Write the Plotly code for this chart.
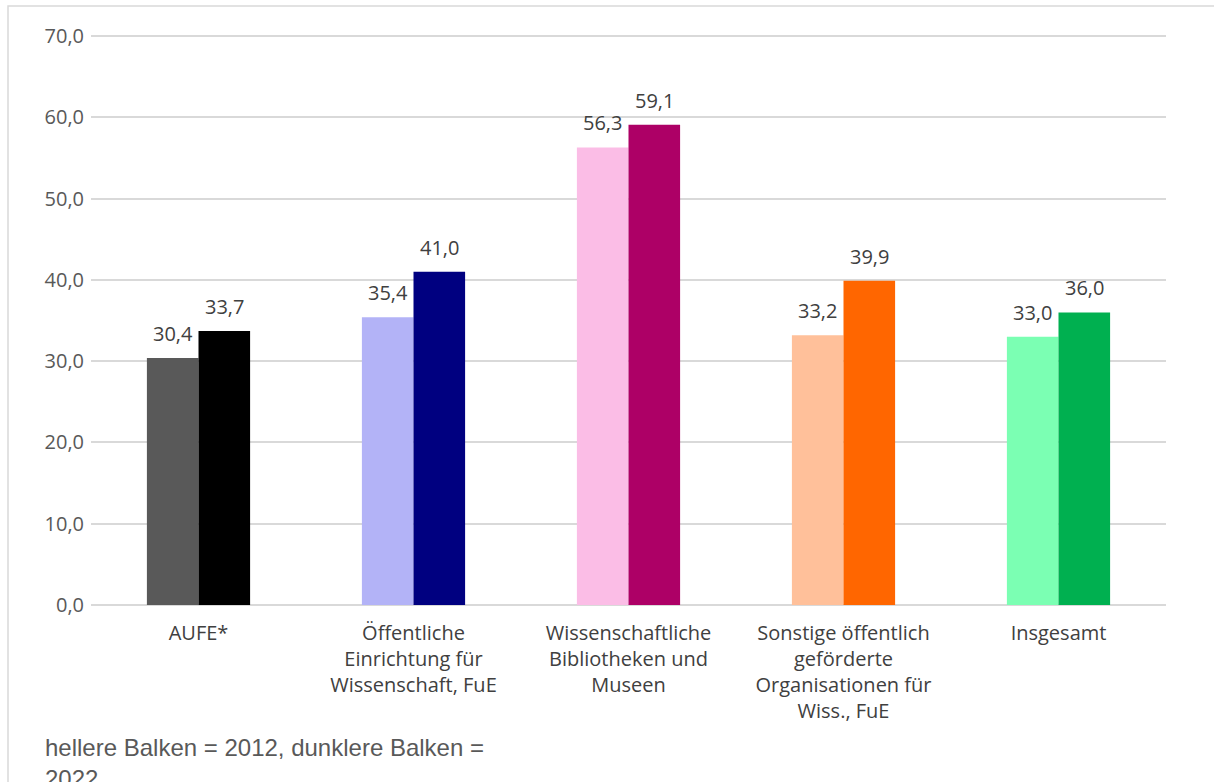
import plotly.graph_objects as go

categories = [
    "AUFE*",
    "Öffentliche<br>Einrichtung für<br>Wissenschaft, FuE",
    "Wissenschaftliche<br>Bibliotheken und<br>Museen",
    "Sonstige öffentlich<br>geförderte<br>Organisationen für<br>Wiss., FuE",
    "Insgesamt",
]
values_2012 = [30.4, 35.4, 56.3, 33.2, 33.0]
values_2022 = [33.7, 41.0, 59.1, 39.9, 36.0]
y_ticks = [0, 10, 20, 30, 40, 50, 60, 70]

colors_2012 = ["#595959", "#B3B3F7", "#FBBDE6", "#FFC09A", "#7BFFB3"]
colors_2022 = ["#000000", "#000080", "#AD0066", "#FF6600", "#00B050"]

FONT = "Open Sans, Noto Sans, sans-serif"
label_font = dict(family=FONT, size=20, color="#404040")

W, H = 1214, 782
M_L, M_R, M_T, M_B = 91, 48, 34, 177

fig = go.Figure()
fig.add_trace(go.Bar(
    x=categories, y=values_2012, name="2012",
    marker=dict(color=colors_2012, line=dict(width=0)),
))
fig.add_trace(go.Bar(
    x=categories, y=values_2022, name="2022",
    marker=dict(color=colors_2022, line=dict(width=0)),
))

# value labels above each bar, offset sideways to the bar's slot in the group
plot_w = W - M_L - M_R
bar_w = plot_w / len(categories) * (1 - 0.52) / 2
annotations = []
for vals, shift in ((values_2012, -bar_w / 2), (values_2022, bar_w / 2)):
    for cat, v in zip(categories, vals):
        annotations.append(dict(
            x=cat, y=v, xref="x", yref="y", xshift=shift, yshift=9,
            xanchor="center", yanchor="bottom", showarrow=False,
            text=f"{v:.1f}".replace(".", ","), font=label_font,
        ))

annotations.append(dict(
    xref="paper", yref="paper", x=-0.0445, y=-0.222,
    xanchor="left", yanchor="top", align="left", showarrow=False,
    text="hellere Balken = 2012, dunklere Balken =<br>2022",
    font=dict(family="Liberation Sans, Arial, sans-serif", size=24, color="#595959"),
))

fig.update_layout(
    width=W, height=H,
    margin=dict(l=M_L, r=M_R, t=M_T, b=M_B),
    paper_bgcolor="white", plot_bgcolor="white",
    separators=",.",
    barmode="group", bargap=0.52, bargroupgap=0,
    showlegend=False,
    font=dict(family=FONT, color="#404040"),
    xaxis=dict(
        showgrid=False, showline=False, ticks="",
        tickfont=dict(size=20, color="#404040"),
        ticklabelstandoff=14,
    ),
    yaxis=dict(
        range=[0, 70.25], tickvals=y_ticks, tickformat=".1f",
        showgrid=True, gridcolor="#D9D9D9", gridwidth=1.5,
        zeroline=True, zerolinecolor="#D9D9D9", zerolinewidth=1.5,
        showline=False, ticks="",
        tickfont=dict(size=20, color="#595959"),
        ticklabelstandoff=6,
    ),
    shapes=[dict(
        type="rect", xref="paper", yref="paper",
        x0=-0.0772, x1=1.2, y0=-0.5, y1=1.049,
        line=dict(color="#D9D9D9", width=1.5), layer="below",
    )],
    annotations=annotations,
)

fig.write_html("out.html")
